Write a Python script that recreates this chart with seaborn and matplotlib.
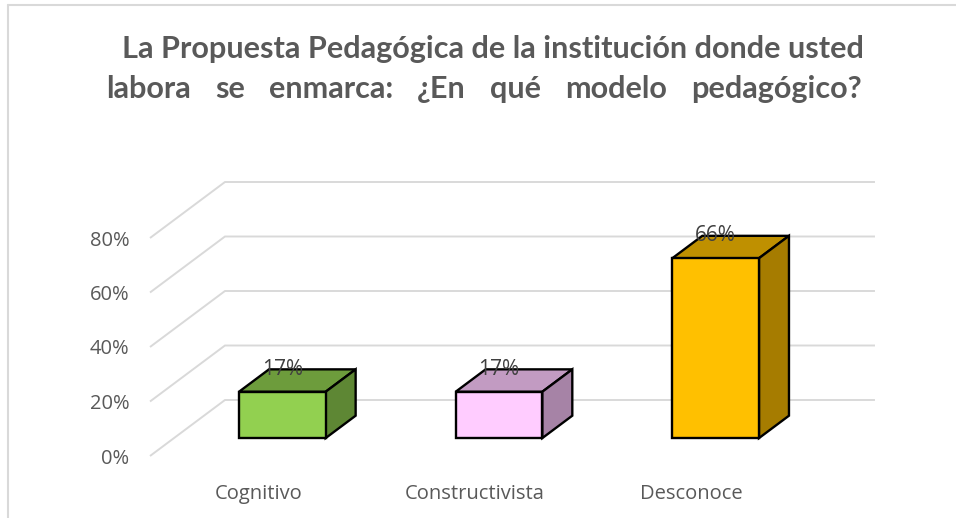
import matplotlib
matplotlib.use("Agg")
import matplotlib.pyplot as plt
from matplotlib.patches import Polygon
from matplotlib.lines import Line2D
from matplotlib.transforms import Affine2D
import seaborn as sns
import numpy as np

# ---- data ----
categories = ["Cognitivo", "Constructivista", "Desconoce"]
values = [0.17, 0.17, 0.66]
value_labels = ["17%", "17%", "66%"]
ytick_values = [0.0, 0.2, 0.4, 0.6, 0.8]
ytick_labels = ["0%", "20%", "40%", "60%", "80%"]
front_colors = ["#92D050", "#FFCCFF", "#FFC000"]
top_colors = ["#6D9C3C", "#C29BC2", "#BF9000"]
side_colors = ["#5E8734", "#A683A6", "#A67C00"]
title_line1 = "La Propuesta Pedagógica de la institución donde usted"
title_line2 = "labora se enmarca: ¿En qué modelo pedagógico?"

W, H = 956, 518
sns.set_theme(style="white")
plt.rcParams["font.family"] = ["Open Sans", "DejaVu Sans"]

fig = plt.figure(figsize=(W / 100, H / 100), dpi=100)
fig.patch.set_facecolor("white")
ax = fig.add_axes([150 / W, (H - 456) / H, 650 / W, 218 / H])
ax.set_facecolor("none")

# depth of the 3D box in data units
DX, DY = 0.346, 0.2055
F0, F1 = 0.32, 0.72          # bar front/back depth fractions
ox, oy = F0 * DX, F0 * DY
bdx, bdy = (F1 - F0) * DX, (F1 - F0) * DY

ax.set_xlim(-0.5, 2.5)
ax.set_ylim(0, 0.8)

# gridlines (3D wall + back)
grid_c = "#D9D9D9"
for t in ytick_values:
    ax.plot([-0.5, -0.5 + DX, 2.5 + DX], [t, t + DY, t + DY], color=grid_c,
            lw=1.4, zorder=0.5, clip_on=False, solid_capstyle="butt")

EW = 1.7
sns.barplot(x=categories, y=values, hue=categories, palette=front_colors,
            width=0.4, saturation=1, edgecolor="black", linewidth=EW,
            legend=False, ax=ax, zorder=3)

shift = Affine2D().translate(ox, oy) + ax.transData
for i, p in enumerate(ax.patches):
    p.set_transform(shift)
    p.set_clip_on(False)
    x0, w, h = p.get_x(), p.get_width(), p.get_height()
    xa, xb = x0 + ox, x0 + w + ox
    top = Polygon([(xa, h + oy), (xb, h + oy), (xb + bdx, h + oy + bdy), (xa + bdx, h + oy + bdy)],
                  closed=True, facecolor=top_colors[i], edgecolor="black", lw=EW,
                  zorder=2.9, clip_on=False, joinstyle="miter")
    side = Polygon([(xb, oy), (xb + bdx, oy + bdy), (xb + bdx, h + oy + bdy), (xb, h + oy)],
                   closed=True, facecolor=side_colors[i], edgecolor="black", lw=EW,
                   zorder=2.9, clip_on=False, joinstyle="miter")
    ax.add_patch(top)
    ax.add_patch(side)
    ax.text(x0 + w / 2 + ox, h + oy + bdy, value_labels[i], ha="center", va="center",
            fontsize=15, color="#404040", zorder=6, clip_on=False)

for s in ax.spines.values():
    s.set_visible(False)
ax.set_yticks(ytick_values)
ax.set_yticklabels(ytick_labels)
ax.set_xticks(range(len(categories)))
ax.set_xticklabels(categories)
ax.tick_params(axis="y", length=0, pad=15, labelsize=14.5, labelcolor="#595959")
ax.tick_params(axis="x", length=0, pad=20, labelsize=14.5, labelcolor="#595959")
ax.set_xlabel("")
ax.set_ylabel("")
ax.grid(False)

# figure frame (top and left)
fig.add_artist(Line2D([8 / W, 1], [1 - 5 / H, 1 - 5 / H], color="#D9D9D9", lw=1.5))
fig.add_artist(Line2D([8 / W, 8 / W], [0, 1 - 5 / H], color="#D9D9D9", lw=1.5))

# title, justified
title_font = ["Lato", "DejaVu Sans"]
renderer = fig.canvas.get_renderer()
fs = 20
t1 = fig.text(122 / W, 1 - 58 / H, title_line1, fontsize=fs, fontweight="bold",
              color="#595959", family=title_font, ha="left", va="baseline")
for _ in range(5):
    wpx = t1.get_window_extent(renderer).width
    fs = fs * 740 / wpx
    t1.set_fontsize(fs)

words = title_line2.split(" ")
wtexts = [fig.text(0, 1 - 98 / H, wd, fontsize=fs, fontweight="bold", color="#595959",
                   family=title_font, ha="left", va="baseline") for wd in words]
widths = [t.get_window_extent(renderer).width for t in wtexts]
x_start, x_end = 106, 862
gap = (x_end - x_start - sum(widths)) / (len(words) - 1)
x = x_start
for t, wd in zip(wtexts, widths):
    t.set_x(x / W)
    x += wd + gap

fig.savefig("out.png", dpi=100)
